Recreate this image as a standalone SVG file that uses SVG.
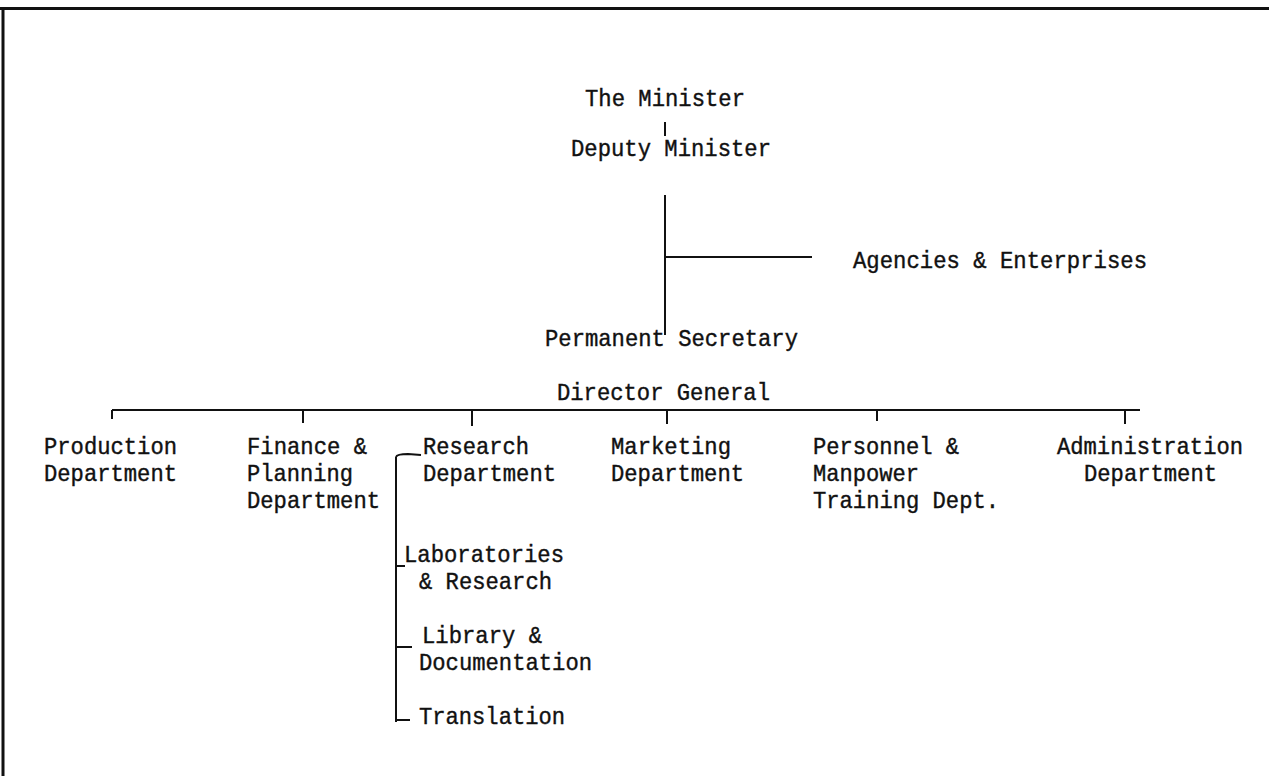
<svg xmlns="http://www.w3.org/2000/svg" width="1269" height="776" viewBox="0 0 1269 776">
<style>
text{font-family:"Liberation Mono","DejaVu Sans Mono",monospace;font-size:23.8px;fill:#111;stroke:#111;stroke-width:0.4}
.ln{stroke:#111;stroke-width:2;fill:none}
.frame{stroke:#111;stroke-width:3;fill:none}
</style>
<rect width="1269" height="776" fill="#fff"/>
<g id="frame"><path class="frame" d="M0,8.5 H1269 M3,8 V776"/></g>
<g id="connectors">
<path class="ln" d="M665,122 V136"/>
<path class="ln" d="M665,195 V335 M665,257 H812"/>
<path class="ln" d="M112,410 H1140"/>
<path class="ln" d="M112,410 V419 M303,410 V423 M472,410 V426 M667,410 V424 M877,410 V421 M1125,410 V424"/>
<path class="ln" d="M396,457 V722 M396,457 Q397,454 408,454 L421,455 M396,566 H405 M396,647 H412 M396,720 H410"/>
</g>
<g id="minister"><text x="585" y="106" textLength="160" lengthAdjust="spacingAndGlyphs">The Minister</text></g>
<g id="deputy"><text x="571" y="156" textLength="200" lengthAdjust="spacingAndGlyphs">Deputy Minister</text></g>
<g id="agencies"><text x="853" y="268" textLength="294" lengthAdjust="spacingAndGlyphs">Agencies &amp; Enterprises</text></g>
<g id="permsec"><text x="545" y="346" textLength="253" lengthAdjust="spacingAndGlyphs">Permanent Secretary</text></g>
<g id="dg"><text x="557" y="400" textLength="213" lengthAdjust="spacingAndGlyphs">Director General</text></g>
<g id="production"><text x="44" y="454" textLength="133" lengthAdjust="spacingAndGlyphs">Production</text><text x="44" y="481" textLength="133" lengthAdjust="spacingAndGlyphs">Department</text></g>
<g id="finance"><text x="247" y="454" textLength="120" lengthAdjust="spacingAndGlyphs">Finance &amp;</text><text x="247" y="481" textLength="106" lengthAdjust="spacingAndGlyphs">Planning</text><text x="247" y="508" textLength="133" lengthAdjust="spacingAndGlyphs">Department</text></g>
<g id="research"><text x="423" y="454" textLength="106" lengthAdjust="spacingAndGlyphs">Research</text><text x="423" y="481" textLength="133" lengthAdjust="spacingAndGlyphs">Department</text></g>
<g id="marketing"><text x="611" y="454" textLength="120" lengthAdjust="spacingAndGlyphs">Marketing</text><text x="611" y="481" textLength="133" lengthAdjust="spacingAndGlyphs">Department</text></g>
<g id="personnel"><text x="813" y="454" textLength="146" lengthAdjust="spacingAndGlyphs">Personnel &amp;</text><text x="813" y="481" textLength="106" lengthAdjust="spacingAndGlyphs">Manpower</text><text x="813" y="508" textLength="186" lengthAdjust="spacingAndGlyphs">Training Dept.</text></g>
<g id="admin"><text x="1057" y="454" textLength="186" lengthAdjust="spacingAndGlyphs">Administration</text><text x="1084" y="481" textLength="133" lengthAdjust="spacingAndGlyphs">Department</text></g>
<g id="labs"><text x="404" y="562" textLength="160" lengthAdjust="spacingAndGlyphs">Laboratories</text><text x="419" y="589" textLength="133" lengthAdjust="spacingAndGlyphs">&amp; Research</text></g>
<g id="library"><text x="422" y="643" textLength="120" lengthAdjust="spacingAndGlyphs">Library &amp;</text><text x="419" y="670" textLength="173" lengthAdjust="spacingAndGlyphs">Documentation</text></g>
<g id="translation"><text x="419" y="724" textLength="146" lengthAdjust="spacingAndGlyphs">Translation</text></g>
</svg>
